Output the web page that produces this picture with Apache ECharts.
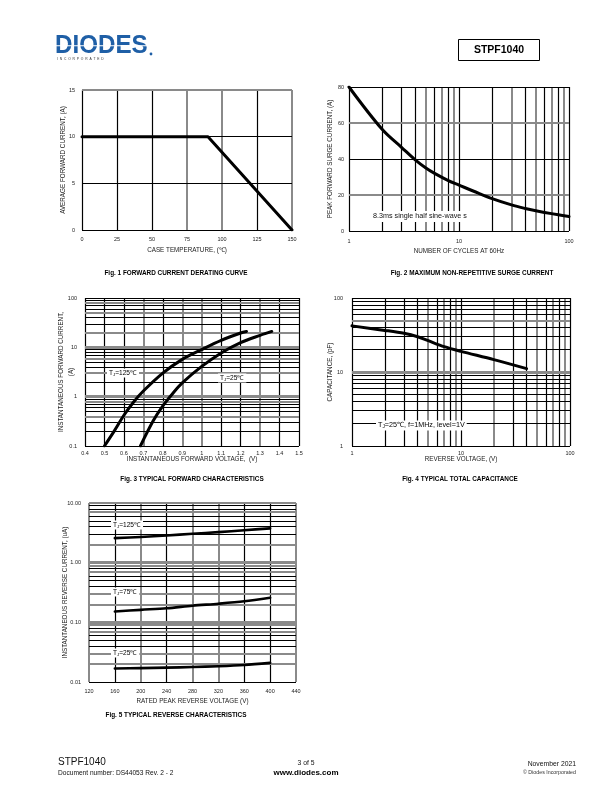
<!DOCTYPE html>
<html><head><meta charset="utf-8">
<script src="https://cdn.jsdelivr.net/npm/echarts@6/dist/echarts.min.js"></script>
<style>html,body{margin:0;padding:0;background:#fff}#c{width:612px;height:792px}</style>
</head><body><div id="c"></div>
<script>
// ---------- DATA ----------
// Fig 1 forward current derating
const fig1Temp = [0, 90, 150];
const fig1Current = [10, 10, 0];
const fig1XTicks = [0, 25, 50, 75, 100, 125, 150];
const fig1YTicks = [0, 5, 10, 15];
// Fig 2 surge current
const fig2Cycles = [1, 2, 3, 4, 5, 6, 8, 10, 15, 20, 30, 40, 50, 60, 80, 100];
const fig2Current = [80, 56.5, 46.5, 39.5, 35, 32, 28, 25.5, 21, 18, 14.5, 12.5, 11.2, 10.3, 9, 8];
const fig2GridX = [1, 2, 3, 4, 5, 6, 7, 8, 9, 10, 20, 30, 40, 50, 60, 70, 80, 90, 100];
const fig2GridY = [0, 20, 40, 60, 80];
// Fig 3 forward characteristics
const fig3V125 = [0.5, 0.55, 0.6, 0.65, 0.7, 0.8, 0.9, 1.0, 1.1, 1.2, 1.23];
const fig3I125 = [0.1, 0.2, 0.42, 0.78, 1.3, 3.0, 5.7, 9.0, 13.8, 19.5, 21];
const fig3V25 = [0.685, 0.75, 0.8, 0.85, 0.9, 1.0, 1.1, 1.2, 1.3, 1.36];
const fig3I25 = [0.1, 0.32, 0.65, 1.15, 1.9, 4.1, 7.7, 12.5, 17.5, 21];
const fig3GridX = [0.4, 0.5, 0.6, 0.7, 0.8, 0.9, 1.0, 1.1, 1.2, 1.3, 1.4, 1.5];
const fig3GridY = [0.1,0.2,0.3,0.4,0.5,0.6,0.7,0.8,0.9,1,2,3,4,5,6,7,8,9,10,20,30,40,50,60,70,80,90,100];
// Fig 4 capacitance
const fig4V = [1, 2, 3, 4, 5, 7, 10, 20, 40];
const fig4C = [42, 36.5, 33.3, 30, 26.5, 22, 19, 14.7, 11.1];
const fig4GridX = [1,2,3,4,5,6,7,8,9,10,20,30,40,50,60,70,80,90,100];
const fig4GridY = [1,2,3,4,5,6,7,8,9,10,20,30,40,50,60,70,80,90,100];
// Fig 5 reverse characteristics
const fig5V = [160, 200, 240, 280, 320, 360, 400];
const fig5I125 = [2.58, 2.7, 2.85, 3.05, 3.25, 3.5, 3.75];
const fig5I75 = [0.152, 0.162, 0.172, 0.19, 0.205, 0.225, 0.258];
const fig5I25 = [0.0168, 0.0171, 0.0174, 0.0178, 0.0184, 0.0193, 0.0209];
const fig5GridX = [120, 160, 200, 240, 280, 320, 360, 400, 440];
const fig5GridY = [0.01,0.02,0.03,0.04,0.05,0.06,0.07,0.08,0.09,0.1,0.2,0.3,0.4,0.5,0.6,0.7,0.8,0.9,1,2,3,4,5,6,7,8,9,10];

// ---------- STYLE ----------
const FONT = '"Liberation Sans", Arial, sans-serif';
const LS = {
  K: {color: '#000', width: 1.2},
  G: {color: '#8a8a8a', width: 2},
  B: {color: '#8a8a8a', width: 3.2}
};
// style patterns for grid lines (same order as grid arrays)
const fig1XStyle = 'KKKGGKG';
const fig1YStyle = 'KKKG';
const fig2XStyle = 'KKKKGKGKGKKGKGKGKGK';
const fig2YStyle = 'KGKGK';
const fig3XStyle = 'KKKGKGGKKGKK';
const fig3YStyle = 'KKKGKKKGKBKGKKGKKKBGKKGKKGKK';
const fig4XStyle = 'KKKKGKGKGKGKKGKGKGK';
const fig4YStyle = 'KKKKKKKKKBKKKGKKKKK';
const fig5XStyle = 'GKGKGGKKG';
const fig5YStyle = 'KGGKKKGKGBGGKKKGKGBGKKKKGKKG';

const zip = (a, b) => a.map((v, i) => [v, b[i]]);

function gridSeries(idx, xs, xst, ys, yst) {
  const st = c => Object.assign({type: 'solid'}, LS[c]);
  return {
    type: 'line', xAxisIndex: idx, yAxisIndex: idx, data: [], silent: true, z: 1,
    markLine: {
      silent: true, symbol: ['none', 'none'], animation: false,
      label: {show: false}, emphasis: {disabled: true},
      data: xs.map((v, i) => ({xAxis: v, lineStyle: st(xst[i])}))
        .concat(ys.map((v, i) => ({yAxis: v, lineStyle: st(yst[i])})))
    }
  };
}
function curve(idx, data, w, smooth) {
  return {
    type: 'line', xAxisIndex: idx, yAxisIndex: idx, data: data, z: 5,
    showSymbol: false, symbol: 'none', smooth: smooth, silent: true,
    lineStyle: {color: '#000', width: w, cap: 'round', join: 'round'}
  };
}
const lblStyle = {fontSize: 5.5, color: '#222', fontFamily: FONT};
const nameStyle = {fontSize: 6.3, color: '#1a1a1a', fontFamily: FONT};
function axis(opts) {
  return Object.assign({
    axisLine: {show: false}, axisTick: {show: false}, splitLine: {show: false},
    nameLocation: 'middle', nameTextStyle: nameStyle, nameMoveOverlap: false
  }, opts);
}
const fmtNum = v => String(+(+v).toPrecision(6));

// ---------- TEXT HELPERS ----------
function txt(x, y, s, size, opt) {
  return {type: 'text', x: x, y: y, z: 50, style: Object.assign({
    text: s, fontSize: size, fill: '#000', fontFamily: FONT,
    align: 'left', verticalAlign: 'middle'}, opt || {})};
}
function tjLabel(x, y, temp, size) {
  return {type: 'text', x: x, y: y, z: 40, style: {
    text: '{a|T}{s|J}{a|=' + temp + '}',
    fontFamily: FONT, fill: '#000', verticalAlign: 'middle', align: 'left',
    backgroundColor: '#fff', padding: [1, 2],
    rich: {a: {fontSize: size, fontFamily: FONT}, s: {fontSize: size * 0.65, fontFamily: FONT, padding: [size * 0.45, 0, 0, 0]}}
  }};
}

const chart = echarts.init(document.getElementById('c'), null, {renderer: 'canvas'});
chart.setOption({
  animation: false,
  backgroundColor: '#fff',
  grid: [
    {left: 82, top: 90, width: 210, height: 140},
    {left: 349, top: 87, width: 220, height: 144},
    {left: 85, top: 298, width: 214, height: 148},
    {left: 352, top: 298, width: 218, height: 148},
    {left: 89, top: 503, width: 207, height: 179}
  ],
  xAxis: [
    axis({gridIndex: 0, type: 'value', min: 0, max: 150, interval: 25,
      name: 'CASE TEMPERATURE, (℃)', nameGap: 17,
      axisLabel: Object.assign({margin: 6}, lblStyle)}),
    axis({gridIndex: 1, type: 'log', logBase: 10, min: 1, max: 100,
      name: 'NUMBER OF CYCLES AT 60Hz', nameGap: 17,
      axisLabel: Object.assign({margin: 7, formatter: fmtNum}, lblStyle)}),
    axis({gridIndex: 2, type: 'value', min: 0.4, max: 1.5, interval: 0.1,
      name: 'INSTANTANEOUS FORWARD VOLTAGE,  (V)', nameGap: 10.5,
      axisLabel: Object.assign({margin: 4, formatter: fmtNum}, lblStyle)}),
    axis({gridIndex: 3, type: 'log', logBase: 10, min: 1, max: 100,
      name: 'REVERSE VOLTAGE, (V)', nameGap: 10.5,
      axisLabel: Object.assign({margin: 4, formatter: fmtNum}, lblStyle)}),
    axis({gridIndex: 4, type: 'value', min: 120, max: 440, interval: 40,
      name: 'RATED PEAK REVERSE VOLTAGE (V)', nameGap: 16,
      axisLabel: Object.assign({margin: 6}, lblStyle)})
  ],
  yAxis: [
    axis({gridIndex: 0, type: 'value', min: 0, max: 15, interval: 5,
      name: 'AVERAGE FORWARD CURRENT, (A)', nameGap: 15.5,
      axisLabel: Object.assign({margin: 7}, lblStyle)}),
    axis({gridIndex: 1, type: 'value', min: 0, max: 80, interval: 20,
      name: 'PEAK FORWARD SURGE CURRENT, (A)', nameGap: 15.5,
      axisLabel: Object.assign({margin: 5}, lblStyle)}),
    axis({gridIndex: 2, type: 'log', logBase: 10, min: 0.1, max: 100,
      name: 'INSTANTANEOUS FORWARD CURRENT,\n(A)', nameGap: 9,
      nameTextStyle: Object.assign({lineHeight: 10}, nameStyle),
      axisLabel: Object.assign({margin: 8, formatter: fmtNum}, lblStyle)}),
    axis({gridIndex: 3, type: 'log', logBase: 10, min: 1, max: 100,
      name: 'CAPACITANCE, (pF)', nameGap: 18.5,
      axisLabel: Object.assign({margin: 9, formatter: fmtNum}, lblStyle)}),
    axis({gridIndex: 4, type: 'log', logBase: 10, min: 0.01, max: 10,
      name: 'INSTANTANEOUS REVERSE CURRENT, (uA)', nameGap: 20.5,
      axisLabel: Object.assign({margin: 8, formatter: v => (+v).toFixed(2)}, lblStyle)})
  ],
  series: [
    gridSeries(0, fig1XTicks, fig1XStyle, fig1YTicks, fig1YStyle),
    gridSeries(1, fig2GridX, fig2XStyle, fig2GridY, fig2YStyle),
    gridSeries(2, fig3GridX, fig3XStyle, fig3GridY, fig3YStyle),
    gridSeries(3, fig4GridX, fig4XStyle, fig4GridY, fig4YStyle),
    gridSeries(4, fig5GridX, fig5XStyle, fig5GridY, fig5YStyle),
    curve(0, zip(fig1Temp, fig1Current), 3, false),
    curve(1, zip(fig2Cycles, fig2Current), 3, 0.35),
    curve(2, zip(fig3V125, fig3I125), 3, 0.35),
    curve(2, zip(fig3V25, fig3I25), 3, 0.35),
    curve(3, zip(fig4V, fig4C), 3, 0.3),
    curve(4, zip(fig5V, fig5I125), 2.6, 0.3),
    curve(4, zip(fig5V, fig5I75), 2.6, 0.3),
    curve(4, zip(fig5V, fig5I25), 2.6, 0.3)
  ],
  graphic: [
    // header logo
    {type: 'text', x: 55, y: 46, z: 50, scaleX: 0.93, style: {text: 'DIODES', fontSize: 26, fontWeight: 'bold',
      fill: '#1f5fa6', fontFamily: FONT, verticalAlign: 'middle'}},
    {type: 'rect', z: 51, shape: {x: 55, y: 45.2, width: 96, height: 1}, style: {fill: '#fff'}},
    {type: 'circle', z: 51, shape: {cx: 151, cy: 54, r: 1.4}, style: {fill: '#1f5fa6'}},
    txt(57, 59.5, 'I  N  C  O  R  P  O  R  A  T  E  D', 3.3, {fill: '#333'}),
    {type: 'rect', z: 50, shape: {x: 458.5, y: 39.5, width: 81, height: 21}, style: {fill: '#fff', stroke: '#000', lineWidth: 1}},
    txt(499, 50.5, 'STPF1040', 10.5, {align: 'center', fontWeight: 'bold'}),
    // captions
    txt(176, 273, 'Fig. 1 FORWARD CURRENT DERATING CURVE', 6.4, {align: 'center', fontWeight: 'bold'}),
    txt(472, 273, 'Fig. 2 MAXIMUM NON-REPETITIVE SURGE CURRENT', 6.4, {align: 'center', fontWeight: 'bold'}),
    txt(192, 479, 'Fig. 3 TYPICAL FORWARD CHARACTERISTICS', 6.4, {align: 'center', fontWeight: 'bold'}),
    txt(460, 479, 'Fig. 4 TYPICAL TOTAL CAPACITANCE', 6.4, {align: 'center', fontWeight: 'bold'}),
    txt(176, 715, 'Fig. 5 TYPICAL REVERSE CHARACTERISTICS', 6.4, {align: 'center', fontWeight: 'bold'}),
    // in-plot annotations
    {type: 'text', x: 371, y: 216.5, z: 40, style: {text: '8.3ms single half sine-wave s', fontSize: 7.2, fill: '#111',
      fontFamily: FONT, verticalAlign: 'middle', backgroundColor: '#fff', padding: [2, 2]}},
    tjLabel(107, 373, '125℃', 6.6),
    tjLabel(218, 378, '25℃', 6.6),
    {type: 'text', x: 376, y: 425.5, z: 40, style: {text: '{a|T}{s|J}{a|=25℃, f=1MHz, level=1V}', fontFamily: FONT,
      verticalAlign: 'middle', backgroundColor: '#fff', padding: [1, 2], fill: '#000',
      rich: {a: {fontSize: 7.2, fontFamily: FONT}, s: {fontSize: 4.8, fontFamily: FONT, padding: [3, 0, 0, 0]}}}},
    tjLabel(111, 525, '125℃', 6.6),
    tjLabel(111, 592, '75℃', 6.6),
    tjLabel(111, 653, '25℃', 6.6),
    // footer
    txt(58, 762, 'STPF1040', 10, {fill: '#111'}),
    txt(58, 773.5, 'Document number: DS44053 Rev. 2 - 2', 6.6, {fill: '#111'}),
    txt(306, 763, '3 of 5', 6.8, {align: 'center', fill: '#111'}),
    txt(306, 773, 'www.diodes.com', 8, {align: 'center', fontWeight: 'bold', fill: '#000'}),
    txt(576, 764, 'November 2021', 6.8, {align: 'right', fill: '#111'}),
    txt(576, 773, '© Diodes Incorporated', 5.3, {align: 'right', fill: '#333'})
  ]
});
</script></body></html>
